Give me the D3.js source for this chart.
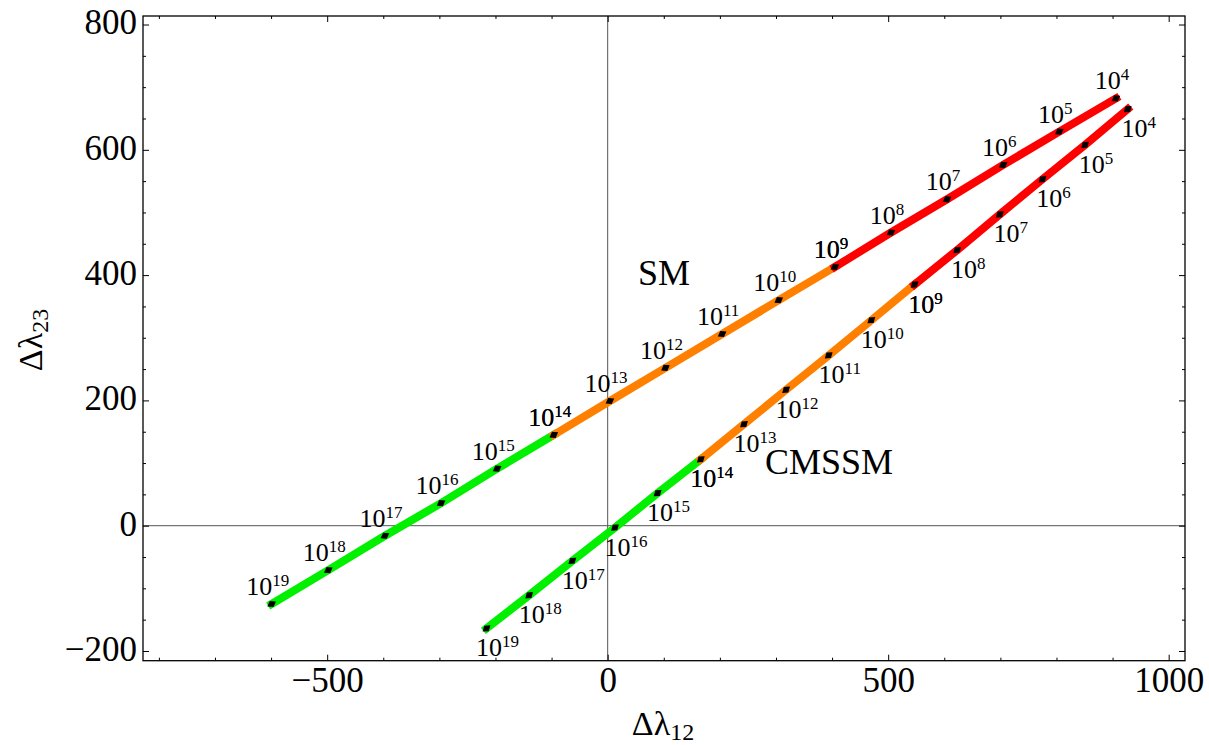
<!DOCTYPE html>
<html>
<head>
<meta charset="utf-8">
<script src="https://cdn.jsdelivr.net/npm/d3@7"></script>
<style>
  body { margin: 0; background: #fff; }
  text { font-family: "Liberation Serif", "Times New Roman", serif; fill: #000; }
</style>
</head>
<body>
<div id="chart"></div>
<script>
// scale exponents, 10^19 ... 10^4
var exponents = [19, 18, 17, 16, 15, 14, 13, 12, 11, 10, 9, 8, 7, 6, 5, 4];

// SM running
var smX = [-599, -498, -397, -297, -197, -96, 4, 103, 204, 305, 405, 505, 605, 705, 805, 906];
var smY = [-125, -71, -16, 36, 91, 145, 199, 252, 306, 360, 413, 468, 521, 576, 629, 682];

// CMSSM running
var cmX = [-216, -140, -63, 13, 89, 166, 243, 318, 394, 470, 547, 623, 699, 775, 851, 927];
var cmY = [-164, -111, -56, -3, 52, 106, 162, 217, 272, 328, 385, 440, 497, 553, 608, 665];

// coloured pieces of each curve (by exponent)
var bandFrom = [19, 14, 9];
var bandTo = [14, 9, 4];
var bandColor = ['#00f000', '#ff8000', '#ff0000'];

var xMajor = [-500, 0, 500, 1000];
var yMajor = [-200, 0, 200, 400, 600, 800];

var W = 1209, H = 745;
var mLeft = 143, mRight = 1185, mTop = 16, mBottom = 660.7;

var svg = d3.select('#chart').append('svg')
    .attr('width', W)
    .attr('height', H);

var x = d3.scaleLinear().domain([-828.3, 1029.1]).range([mLeft, mRight]);
var y = d3.scaleLinear().domain([-215.5, 813.6]).range([mBottom, mTop]);

var fmt = function(d) { return d < 0 ? '\u2212' + Math.abs(d) : String(d); };

// zero lines
svg.append('line')
    .attr('x1', mLeft).attr('x2', mRight)
    .attr('y1', y(0)).attr('y2', y(0))
    .attr('stroke', '#555').attr('stroke-width', 1);
svg.append('line')
    .attr('x1', x(0)).attr('x2', x(0))
    .attr('y1', mTop).attr('y2', mBottom)
    .attr('stroke', '#555').attr('stroke-width', 1);

// axes: ticks inside the frame, mirrored on top and right
var xMinor = d3.range(-800, 1001, 100).filter(function(d) { return xMajor.indexOf(d) < 0; });
var yMinor = d3.range(-200, 801, 50).filter(function(d) { return yMajor.indexOf(d) < 0; });

function addAxis(axis, tr) {
    var g = svg.append('g').attr('transform', tr).call(axis);
    g.select('.domain').remove();
    g.selectAll('line').attr('stroke', '#000').attr('stroke-width', 1);
    return g;
}

var gxb = addAxis(d3.axisBottom(x).tickValues(xMajor).tickSize(-6).tickFormat(fmt),
    'translate(0,' + mBottom + ')');
gxb.selectAll('text').attr('font-size', 35).attr('y', 31).attr('dy', null);
addAxis(d3.axisBottom(x).tickValues(xMinor).tickSize(-3).tickFormat(''), 'translate(0,' + mBottom + ')');
addAxis(d3.axisTop(x).tickValues(xMajor).tickSize(-6).tickFormat(''), 'translate(0,' + mTop + ')');
addAxis(d3.axisTop(x).tickValues(xMinor).tickSize(-3).tickFormat(''), 'translate(0,' + mTop + ')');

var gyl = addAxis(d3.axisLeft(y).tickValues(yMajor).tickSize(-6).tickFormat(fmt),
    'translate(' + mLeft + ',0)');
gyl.selectAll('text').attr('font-size', 35).attr('x', -6).attr('dy', '0.27em');
addAxis(d3.axisLeft(y).tickValues(yMinor).tickSize(-3).tickFormat(''), 'translate(' + mLeft + ',0)');
addAxis(d3.axisRight(y).tickValues(yMajor).tickSize(-6).tickFormat(''), 'translate(' + mRight + ',0)');
addAxis(d3.axisRight(y).tickValues(yMinor).tickSize(-3).tickFormat(''), 'translate(' + mRight + ',0)');

// frame
svg.append('rect')
    .attr('x', mLeft).attr('y', mTop)
    .attr('width', mRight - mLeft).attr('height', mBottom - mTop)
    .attr('fill', 'none').attr('stroke', '#000').attr('stroke-width', 1.3);

// curves
var curves = [
    { name: 'SM', xs: smX, ys: smY, lx: -4, ly: -9 },
    { name: 'CMSSM', xs: cmX, ys: cmY, lx: 11, ly: 28 }
];

var line = d3.line()
    .x(function(d) { return x(d.x); })
    .y(function(d) { return y(d.y); });

curves.forEach(function(c) {
    var pts = exponents.map(function(e, i) { return { e: e, x: c.xs[i], y: c.ys[i] }; });
    c.pieces = bandFrom.map(function(f, k) {
        return {
            color: bandColor[k],
            pts: pts.filter(function(p) { return p.e <= f && p.e >= bandTo[k]; })
        };
    });
    c.pts = pts;
});

curves.forEach(function(c) {
    c.pieces.forEach(function(p) {
        svg.append('path')
            .datum(p.pts)
            .attr('d', line)
            .attr('fill', 'none')
            .attr('stroke', p.color)
            .attr('stroke-width', 8)
            .attr('stroke-linecap', 'square');
    });
});

// point markers: small black rhombi along the line
curves.forEach(function(c) {
    var p0 = c.pts[0], p1 = c.pts[c.pts.length - 1];
    var ang = Math.atan2(y(p1.y) - y(p0.y), x(p1.x) - x(p0.x)) * 180 / Math.PI;
    svg.selectAll(null)
        .data(c.pts)
        .enter().append('path')
        .attr('d', 'M-5,0L0,-3.6L5,0L0,3.6Z')
        .attr('fill', '#000')
        .attr('transform', function(d) {
            return 'translate(' + x(d.x) + ',' + y(d.y) + ') rotate(' + ang + ')';
        });
});

// 10^n labels (drawn once per coloured piece, so shared points are drawn twice)
curves.forEach(function(c) {
    c.pieces.forEach(function(p) {
        var t = svg.selectAll(null)
            .data(p.pts)
            .enter().append('text')
            .attr('x', function(d) { return x(d.x) + c.lx; })
            .attr('y', function(d) { return y(d.y) + c.ly; })
            .attr('text-anchor', 'middle')
            .attr('font-size', 26);
        t.append('tspan').text('10');
        t.append('tspan').attr('font-size', 17).attr('dy', -9).text(function(d) { return d.e; });
    });
});

// curve names
svg.append('text').attr('x', 638).attr('y', 285).attr('font-size', 36).text('SM');
svg.append('text').attr('x', 765).attr('y', 474).attr('font-size', 36).text('CMSSM');

// axis titles
var xt = svg.append('text')
    .attr('x', 663).attr('y', 735)
    .attr('text-anchor', 'middle')
    .attr('font-size', 34);
xt.append('tspan').text('\u0394\u03bb');
xt.append('tspan').attr('font-size', 24).attr('dy', 5).text('12');

var yt = svg.append('text')
    .attr('transform', 'translate(42,340) rotate(-90)')
    .attr('text-anchor', 'middle')
    .attr('font-size', 34);
yt.append('tspan').text('\u0394\u03bb');
yt.append('tspan').attr('font-size', 24).attr('dy', 6).text('23');
</script>
</body>
</html>
